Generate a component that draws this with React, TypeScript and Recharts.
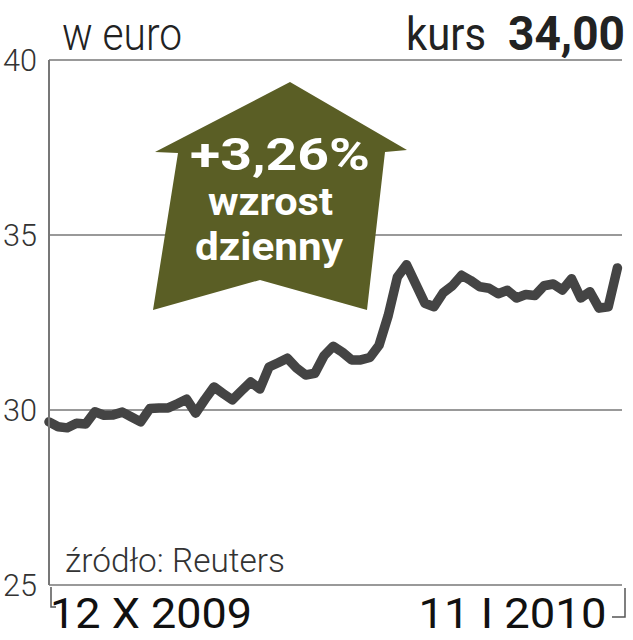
import React from 'react';
import { LineChart, Line, XAxis, YAxis, CartesianGrid } from 'recharts';

// daily close in EUR, 12 X 2009 - 11 I 2010 (trading-day index)
const closes = [
  29.66, 29.52, 29.49, 29.62, 29.6, 29.95, 29.85, 29.86, 29.94, 29.8,
  29.66, 30.04, 30.06, 30.06, 30.18, 30.31, 29.91, 30.3, 30.66, 30.47,
  30.29, 30.55, 30.8, 30.6, 31.23, 31.35, 31.48, 31.2, 31.0, 31.05,
  31.55, 31.82, 31.65, 31.43, 31.43, 31.5, 31.85, 32.7, 33.8, 34.15,
  33.6, 33.05, 32.95, 33.35, 33.55, 33.85, 33.7, 33.52, 33.48, 33.32,
  33.42, 33.2, 33.3, 33.27, 33.55, 33.6, 33.43, 33.75, 33.2, 33.38,
  32.91, 32.95, 34.06,
];
const yTicks = [25, 30, 35, 40];
const dateLabels = ['12 X 2009', '11 I 2010'];

const data = closes.map((v, i) => ({ i, v }));
const lastIdx = closes.length - 1;

const FONT = 'Roboto, "Open Sans", sans-serif';

function YTick({ y, payload }: { y?: number; payload?: { value: number } }) {
  return (
    <text
      x={20}
      y={y}
      textAnchor="middle"
      dominantBaseline="central"
      fontFamily={FONT}
      fontWeight={300}
      fontSize={31}
      fill="#333"
      textLength={34}
      lengthAdjust="spacingAndGlyphs"
    >
      {payload?.value}
    </text>
  );
}

function XTick({ x, y, payload }: { x?: number; y?: number; payload?: { value: number } }) {
  const first = payload?.value === 0;
  return (
    <text
      x={first ? (x ?? 0) + 1 : (x ?? 0) - 11}
      y={(y ?? 0) + 43}
      textAnchor={first ? 'start' : 'end'}
      fontFamily={FONT}
      fontWeight={400}
      fontSize={42}
      fill="#111"
      textLength={first ? 202 : 188}
      lengthAdjust="spacingAndGlyphs"
    >
      {first ? dateLabels[0] : dateLabels[1]}
    </text>
  );
}

export default function App() {
  return (
    <div style={{ position: 'absolute', left: 0, top: 0, width: 633, height: 640, background: '#fff' }}>
      <LineChart width={633} height={640} data={data} margin={{ top: 60, right: 11, left: 0, bottom: 0 }}>
        <CartesianGrid vertical={false} stroke="#999" strokeWidth={2} />
        <XAxis
          dataKey="i"
          type="number"
          domain={[0, 62.5]}
          ticks={[0, lastIdx]}
          tick={<XTick />}
          tickSize={0}
          tickMargin={0}
          axisLine={false}
          tickLine={false}
          height={55}
        />
        <YAxis
          domain={[25, 40]}
          ticks={yTicks}
          width={49}
          tick={<YTick />}
          tickLine={false}
          axisLine={{ stroke: '#777', strokeWidth: 2 }}
        />
        <Line
          type="linear"
          dataKey="v"
          stroke="#444"
          strokeWidth={9.5}
          strokeLinejoin="round"
          strokeLinecap="round"
          dot={false}
          isAnimationActive={false}
        />
      </LineChart>
      <svg width={633} height={640} style={{ position: 'absolute', left: 0, top: 0, pointerEvents: 'none' }}>
        <text x={62} y={50} fontFamily={FONT} fontWeight={300} fontSize={46} fill="#222" textLength={120} lengthAdjust="spacingAndGlyphs">
          w euro
        </text>
        <text x={406} y={50} fontFamily={FONT} fontWeight={400} fontSize={46} fill="#222" textLength={80} lengthAdjust="spacingAndGlyphs">
          kurs
        </text>
        <text x={508} y={50} fontFamily={FONT} fontWeight={700} fontSize={49} fill="#222" textLength={117} lengthAdjust="spacingAndGlyphs">
          34,00
        </text>
        <polygon
          points="290,82 407,150 385,152 367,310 260,280 153,310 178,153 155,152"
          fill="#5a5e25"
        />
        <text x={190} y={170} fontFamily={FONT} fontWeight={700} fontSize={44} fill="#fff" textLength={180} lengthAdjust="spacingAndGlyphs">
          +3,26%
        </text>
        <text x={208} y={215} fontFamily={FONT} fontWeight={700} fontSize={38} fill="#fff" textLength={125} lengthAdjust="spacingAndGlyphs">
          wzrost
        </text>
        <text x={195} y={260} fontFamily={FONT} fontWeight={700} fontSize={38} fill="#fff" textLength={148} lengthAdjust="spacingAndGlyphs">
          dzienny
        </text>
        <text x={65} y={572} fontFamily={FONT} fontWeight={300} fontSize={33} fill="#333" textLength={220} lengthAdjust="spacingAndGlyphs">
          źródło: Reuters
        </text>
        <path d="M51,587 V607 H56" stroke="#555" strokeWidth={1.5} fill="none" />
        <path d="M625,588 V617 H612" stroke="#555" strokeWidth={1.5} fill="none" />
      </svg>
    </div>
  );
}
